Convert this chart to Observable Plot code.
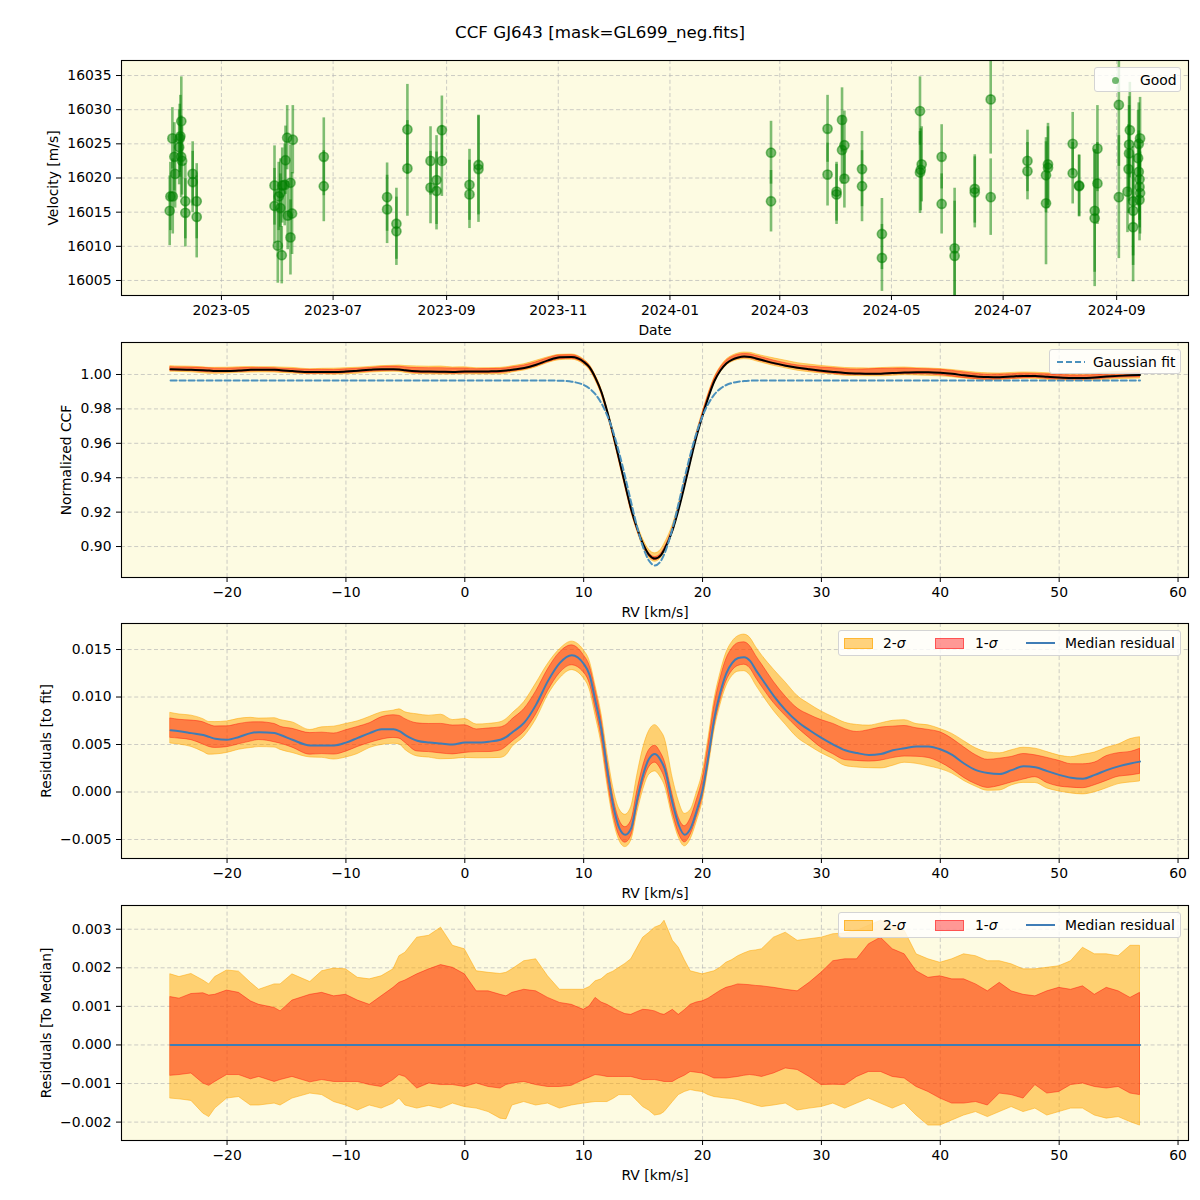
<!DOCTYPE html>
<html><head><meta charset="utf-8">
<script src="https://cdn.jsdelivr.net/npm/d3@7"></script>
<script src="https://cdn.jsdelivr.net/npm/@observablehq/plot@0.6"></script>
<style>
body{margin:0;background:#fff;font-family:"DejaVu Sans",sans-serif;}
#wrap{position:relative;width:1200px;height:1200px;overflow:hidden;}
.panel{position:absolute;left:0;}
.title{position:absolute;top:21px;left:0;width:1200px;text-align:center;font-size:16.7px;line-height:22px;}
.legend{position:absolute;box-sizing:border-box;background:rgba(255,255,255,0.8);border:1px solid #d4d4d4;border-radius:3px;font-size:13.9px;}
.legend span{position:absolute;white-space:nowrap;line-height:16px;}
.legend .sw{position:absolute;box-sizing:border-box;}
</style></head>
<body><div id="wrap">
<div class="title">CCF GJ643 [mask=GL699_neg.fits]</div>
</div>
<script>
// ---------------- Data: RV time series (panel 1) ----------------
const obsDate = [
"2023-04-02T18:00","2023-04-03T03:00","2023-04-04T10:00","2023-04-04T05:00","2023-04-05T07:00","2023-04-05T17:00",
"2023-04-08T05:00","2023-04-08T14:00","2023-04-09T02:00","2023-04-07T22:00","2023-04-09T00:00","2023-04-09T12:00",
"2023-04-11T07:00","2023-04-11T07:00","2023-04-15T07:00","2023-04-15T07:00","2023-04-17T12:00","2023-04-17T12:00",
"2023-05-30T00:00","2023-05-30T00:00","2023-05-31T19:00","2023-06-01T07:00","2023-06-02T05:00","2023-06-02T05:00",
"2023-06-02T23:00","2023-06-03T05:00","2023-06-04T14:00","2023-06-05T00:00","2023-06-05T22:00","2023-06-06T05:00",
"2023-06-07T17:00","2023-06-07T17:00","2023-06-08T14:00","2023-06-09T00:00","2023-06-25T22:00","2023-06-25T22:00",
"2023-07-30T12:00","2023-07-30T12:00","2023-08-04T14:00","2023-08-04T14:00","2023-08-10T14:00","2023-08-10T14:00",
"2023-08-23T05:00","2023-08-23T05:00","2023-08-26T12:00","2023-08-26T12:00","2023-08-29T10:00","2023-08-29T10:00",
"2023-09-13T12:00","2023-09-13T12:00","2023-09-18T10:00","2023-09-18T10:00",
"2024-02-25T05:00","2024-02-25T05:00","2024-03-27T02:00","2024-03-27T02:00","2024-04-01T00:00","2024-04-01T00:00",
"2024-04-04T00:00","2024-04-04T00:00","2024-04-05T07:00","2024-04-05T07:00","2024-04-14T22:00","2024-04-14T22:00",
"2024-04-25T19:00","2024-04-25T19:00","2024-05-16T14:00","2024-05-16T14:00","2024-05-17T00:00","2024-05-17T12:00",
"2024-05-28T10:00","2024-05-28T10:00","2024-06-04T12:00","2024-06-04T12:00","2024-06-15T12:00","2024-06-15T12:00",
"2024-06-24T05:00","2024-06-24T05:00","2024-07-14T07:00","2024-07-14T07:00","2024-07-24T10:00","2024-07-24T10:00",
"2024-07-25T12:00","2024-07-25T12:00","2024-08-08T00:00","2024-08-08T00:00","2024-08-11T12:00","2024-08-11T12:00",
"2024-08-20T00:00","2024-08-20T00:00","2024-08-21T12:00","2024-08-21T12:00","2024-09-02T05:00","2024-09-02T05:00",
"2024-09-06T22:00","2024-09-07T12:00","2024-09-07T19:00","2024-09-07T19:00","2024-09-08T05:00","2024-09-10T00:00",
"2024-09-10T00:00","2024-09-10T00:00","2024-09-12T17:00","2024-09-13T02:00","2024-09-13T02:00","2024-09-13T12:00",
"2024-09-13T12:00","2024-09-13T12:00","2024-09-13T19:00","2024-09-13T19:00"];
const obsRV = [
16015.2,16017.3,16017.3,16025.8,16023.1,16020.6,
16025.8,16026.1,16028.3,16024.5,16023.1,16022.5,
16016.6,16014.9,16020.6,16019.4,16016.6,16014.3,
16018.9,16015.9,16010.1,16017.3,16017.8,16015.6,
16008.7,16018.9,16019.0,16022.6,16025.9,16014.5,
16019.3,16011.3,16014.8,16025.6,16023.1,16018.8,
16017.2,16015.4,16013.3,16012.2,16027.1,16021.4,
16022.5,16018.6,16019.7,16018.1,16027.0,16022.5,
16019.0,16017.6,16021.9,16021.3,
16023.7,16016.6,16027.2,16020.5,16018.0,16017.6,
16028.5,16024.1,16024.8,16019.9,16021.3,16018.8,
16011.8,16008.3,16029.8,16020.8,16021.2,16022.0,
16023.1,16016.2,16009.7,16008.6,16018.4,16017.9,
16031.5,16017.2,16022.5,16021.0,16020.4,16016.3,
16022.0,16021.5,16025.0,16020.7,16018.9,16018.8,
16015.2,16014.1,16024.3,16019.2,16030.7,16017.2,
16018.0,16021.3,16024.9,16023.6,16027.0,16016.6,
16015.2,16012.8,16022.9,16025.0,16020.9,16019.8,
16018.7,16016.8,16025.8,16017.8];
const obsErr = [
5.1,5.0,5.5,4.5,5.0,5.0,
5.0,6.0,6.5,5.5,6.0,5.0,
5.5,5.0,4.7,4.5,5.5,6.0,
5.8,5.5,5.5,5.0,5.0,5.0,
4.2,5.5,6.0,5.0,4.7,5.0,
5.5,5.5,6.0,5.0,5.7,5.2,
5.0,5.0,5.2,5.0,6.6,7.0,
5.0,5.3,6.5,5.7,5.0,5.2,
5.2,5.0,7.3,7.8,
4.6,4.5,4.9,4.6,4.3,4.4,
4.7,5.0,5.0,4.3,5.5,5.2,
5.2,4.9,5.0,6.0,6.0,5.5,
4.7,4.4,8.8,8.0,5.0,5.2,
8.0,5.6,4.5,4.2,5.5,9.0,
6.0,6.0,4.6,4.5,4.5,4.5,
9.0,10.0,6.3,6.0,9.0,9.0,
6.0,6.5,7.0,7.0,7.0,8.0,
8.0,8.0,7.0,6.0,6.0,6.0,
6.0,6.0,6.0,6.0];
const dateTicks = ["2023-05-01","2023-07-01","2023-09-01","2023-11-01","2024-01-01","2024-03-01","2024-05-01","2024-07-01","2024-09-01"];
const velTicks = [16005,16010,16015,16020,16025,16030,16035];

// ---------------- Data: CCF profiles (panels 2-4) ----------------
const rvGrid = [
-24.75,-24,-23,-22,-21.5,-21,-20,-19,-18,-17.3,
-16,-15.5,-14.5,-13,-12,-11,-10,-9,-8,-7,
-6,-5.5,-5,-4,-3,-2,-1,0,1,2,
3,3.5,4,5,6,7,8,9,10,10.5,
11,11.5,12,12.5,13,13.5,14,14.5,15,15.5,
16,16.5,16.8,17.5,18,18.5,19,19.5,20,20.5,
21,21.5,22,22.5,23,23.5,24,24.5,25,26,
27,28,29,30,31,32,33,34,35,36,
37,38,39,40,41,42,43,44,45,46,
47,48,49,50,51,52,53,54,55,56,
56.8];
const ccfMedian = [
1.0030,1.0029,1.0027,1.0025,1.0023,1.0021,1.0020,1.0023,1.0027,1.0028,
1.0027,1.0025,1.0020,1.0014,1.0014,1.0014,1.0017,1.0022,1.0027,1.0031,
1.0031,1.0029,1.0025,1.0019,1.0017,1.0016,1.0015,1.0017,1.0017,1.0018,
1.0020,1.0023,1.0028,1.0038,1.0057,1.0082,1.0100,1.0102,1.0074,1.0041,
0.9979,0.9897,0.9781,0.9647,0.9503,0.9357,0.9216,0.9105,0.9014,0.8952,
0.8930,0.8950,0.8984,0.9100,0.9219,0.9357,0.9503,0.9642,0.9761,0.9870,
0.9962,1.0023,1.0064,1.0087,1.0099,1.0104,1.0102,1.0093,1.0084,1.0066,
1.0051,1.0039,1.0030,1.0022,1.0015,1.0009,1.0006,1.0004,1.0005,1.0009,
1.0011,1.0013,1.0013,1.0010,1.0004,0.9995,0.9988,0.9985,0.9984,0.9988,
0.9992,0.9991,0.9987,0.9983,0.9980,0.9979,0.9983,0.9988,0.9992,0.9995,
0.9997];
const gaussFit = [
0.9965,0.9965,0.9965,0.9965,0.9965,0.9965,0.9965,0.9965,0.9965,0.9965,
0.9965,0.9965,0.9965,0.9965,0.9965,0.9965,0.9965,0.9965,0.9965,0.9965,
0.9965,0.9965,0.9965,0.9965,0.9965,0.9965,0.9965,0.9965,0.9965,0.9965,
0.9965,0.9965,0.9965,0.9965,0.9965,0.9965,0.9964,0.9958,0.9939,0.9918,
0.9884,0.9832,0.9759,0.9662,0.9541,0.9402,0.9254,0.9113,0.8996,0.8917,
0.8890,0.8917,0.8959,0.9113,0.9254,0.9402,0.9541,0.9662,0.9759,0.9832,
0.9884,0.9918,0.9939,0.9951,0.9958,0.9962,0.9964,0.9965,0.9965,0.9965,
0.9965,0.9965,0.9965,0.9965,0.9965,0.9965,0.9965,0.9965,0.9965,0.9965,
0.9965,0.9965,0.9965,0.9965,0.9965,0.9965,0.9965,0.9965,0.9965,0.9965,
0.9965,0.9965,0.9965,0.9965,0.9965,0.9965,0.9965,0.9965,0.9965,0.9965,
0.9965];
const resMedian = [
0.0065,0.0064,0.0062,0.0060,0.0058,0.0056,0.0055,0.0058,0.0062,0.0063,
0.0062,0.0060,0.0055,0.0049,0.0049,0.0049,0.0052,0.0057,0.0062,0.0066,
0.0066,0.0064,0.0060,0.0054,0.0052,0.0051,0.0050,0.0052,0.0052,0.0053,
0.0055,0.0058,0.0063,0.0073,0.0092,0.0117,0.0136,0.0144,0.0135,0.0123,
0.0095,0.0065,0.0022,-0.0015,-0.0038,-0.0045,-0.0038,-0.0008,0.0018,0.0035,
0.0040,0.0033,0.0025,-0.0013,-0.0035,-0.0045,-0.0038,-0.0020,0.0002,0.0038,
0.0078,0.0105,0.0125,0.0136,0.0141,0.0142,0.0138,0.0128,0.0119,0.0101,
0.0086,0.0074,0.0065,0.0057,0.0050,0.0044,0.0041,0.0039,0.0040,0.0044,
0.0046,0.0048,0.0048,0.0045,0.0039,0.0030,0.0023,0.0020,0.0019,0.0023,
0.0027,0.0026,0.0022,0.0018,0.0015,0.0014,0.0018,0.0023,0.0027,0.0030,
0.0032];
// spread of the CCFs around the median (upper/lower 2-sigma and 1-sigma)
const devHi2 = [
0.00183,0.00176,0.00184,0.00167,0.00157,0.00176,0.00193,0.00190,0.00161,0.00143,
0.00157,0.00157,0.00183,0.00163,0.00191,0.00198,0.00196,0.00174,0.00170,0.00178,
0.00196,0.00230,0.00239,0.00278,0.00283,0.00304,0.00257,0.00248,0.00191,0.00187,
0.00184,0.00187,0.00196,0.00217,0.00222,0.00178,0.00143,0.00143,0.00143,0.00150,
0.00165,0.00170,0.00183,0.00190,0.00200,0.00210,0.00222,0.00250,0.00278,0.00290,
0.00304,0.00310,0.00322,0.00270,0.00252,0.00220,0.00191,0.00187,0.00183,0.00187,
0.00191,0.00200,0.00213,0.00220,0.00230,0.00237,0.00243,0.00245,0.00248,0.00278,
0.00291,0.00270,0.00274,0.00278,0.00287,0.00289,0.00296,0.00309,0.00322,0.00309,
0.00296,0.00235,0.00222,0.00213,0.00222,0.00235,0.00230,0.00217,0.00217,0.00209,
0.00196,0.00196,0.00200,0.00204,0.00217,0.00252,0.00235,0.00235,0.00230,0.00257,
0.00257];
const devHi1 = [
0.00124,0.00120,0.00132,0.00134,0.00128,0.00130,0.00141,0.00135,0.00113,0.00104,
0.00096,0.00087,0.00115,0.00130,0.00135,0.00126,0.00130,0.00115,0.00104,0.00126,
0.00148,0.00161,0.00167,0.00183,0.00196,0.00207,0.00200,0.00183,0.00139,0.00139,
0.00130,0.00126,0.00135,0.00143,0.00139,0.00122,0.00109,0.00104,0.00091,0.00100,
0.00122,0.00110,0.00104,0.00095,0.00087,0.00080,0.00078,0.00085,0.00091,0.00090,
0.00087,0.00080,0.00078,0.00091,0.00078,0.00090,0.00104,0.00110,0.00113,0.00120,
0.00130,0.00140,0.00148,0.00152,0.00157,0.00156,0.00155,0.00153,0.00152,0.00148,
0.00143,0.00139,0.00161,0.00187,0.00217,0.00222,0.00222,0.00261,0.00278,0.00248,
0.00235,0.00191,0.00174,0.00178,0.00170,0.00170,0.00157,0.00139,0.00161,0.00139,
0.00130,0.00126,0.00139,0.00148,0.00143,0.00152,0.00130,0.00148,0.00139,0.00122,
0.00135];
const devLo1 = [
-0.00080,-0.00078,-0.00074,-0.00100,-0.00106,-0.00096,-0.00078,-0.00078,-0.00089,-0.00083,
-0.00096,-0.00091,-0.00083,-0.00097,-0.00091,-0.00096,-0.00096,-0.00096,-0.00104,-0.00109,
-0.00091,-0.00078,-0.00083,-0.00113,-0.00100,-0.00104,-0.00104,-0.00109,-0.00100,-0.00109,
-0.00113,-0.00104,-0.00100,-0.00096,-0.00104,-0.00109,-0.00109,-0.00106,-0.00091,-0.00085,
-0.00078,-0.00080,-0.00083,-0.00083,-0.00083,-0.00083,-0.00083,-0.00087,-0.00091,-0.00091,
-0.00091,-0.00094,-0.00096,-0.00096,-0.00087,-0.00080,-0.00070,-0.00072,-0.00074,-0.00080,
-0.00087,-0.00087,-0.00087,-0.00085,-0.00083,-0.00080,-0.00078,-0.00080,-0.00083,-0.00074,
-0.00061,-0.00065,-0.00083,-0.00104,-0.00103,-0.00104,-0.00083,-0.00070,-0.00070,-0.00083,
-0.00087,-0.00109,-0.00122,-0.00139,-0.00152,-0.00152,-0.00148,-0.00157,-0.00126,-0.00130,
-0.00139,-0.00104,-0.00126,-0.00122,-0.00104,-0.00100,-0.00109,-0.00113,-0.00109,-0.00126,
-0.00130];
const devLo2 = [
-0.00139,-0.00141,-0.00145,-0.00178,-0.00187,-0.00165,-0.00139,-0.00135,-0.00157,-0.00157,
-0.00152,-0.00157,-0.00139,-0.00126,-0.00130,-0.00148,-0.00157,-0.00170,-0.00157,-0.00165,
-0.00152,-0.00139,-0.00157,-0.00165,-0.00158,-0.00165,-0.00152,-0.00161,-0.00165,-0.00174,
-0.00191,-0.00193,-0.00157,-0.00148,-0.00157,-0.00152,-0.00165,-0.00157,-0.00152,-0.00150,
-0.00148,-0.00148,-0.00148,-0.00140,-0.00130,-0.00130,-0.00130,-0.00145,-0.00161,-0.00170,
-0.00183,-0.00180,-0.00174,-0.00148,-0.00130,-0.00122,-0.00117,-0.00120,-0.00122,-0.00130,
-0.00135,-0.00137,-0.00139,-0.00140,-0.00143,-0.00148,-0.00152,-0.00157,-0.00161,-0.00157,
-0.00152,-0.00170,-0.00165,-0.00161,-0.00152,-0.00165,-0.00152,-0.00139,-0.00152,-0.00165,
-0.00152,-0.00183,-0.00209,-0.00209,-0.00196,-0.00183,-0.00174,-0.00187,-0.00174,-0.00161,
-0.00174,-0.00165,-0.00183,-0.00174,-0.00165,-0.00165,-0.00183,-0.00191,-0.00187,-0.00200,
-0.00209];
const rvTicks = [-20,-10,0,10,20,30,40,50,60];
const ccfTicks = [0.90,0.92,0.94,0.96,0.98,1.00];
const resTicks = [-0.005,0,0.005,0.010,0.015];
const medTicks = [-0.002,-0.001,0,0.001,0.002,0.003];

// ---------------- Build tables ----------------
const parseT = d3.utcParse("%Y-%m-%dT%H:%M");
const obs = obsDate.map((d,i)=>({date: parseT(d), v: obsRV[i], e: obsErr[i]}));
const prof = rvGrid.map((rv,i)=>({rv, ccf: ccfMedian[i], fit: gaussFit[i], res: resMedian[i],
  h2: devHi2[i], h1: devHi1[i], l1: devLo1[i], l2: devLo2[i]}));

// ---------------- Styling ----------------
const BG = "#fdfbe2";
const FONT = "DejaVu Sans";
const GRID = {stroke:"#b4b4b4", strokeOpacity:0.75, strokeDasharray:"4,2.6", strokeWidth:0.9};
const C2 = "#ffa500", C1 = "#ff0000", CMED = "#3f7db6", CFIT = "#4b91bd";
const RVDOM = [-28.88, 60.88];
const wrap = document.getElementById("wrap");

function place(svg, top){ svg.classList.add("panel"); svg.style.top = top+"px"; wrap.appendChild(svg); }

function common(height, mt, mb, x, y, marks){
  return Plot.plot({width:1200, height, marginLeft:121, marginRight:12, marginTop:mt, marginBottom:mb,
    style:{fontFamily:FONT, fontSize:"13.9px", background:"transparent", color:"black", overflow:"visible"},
    x, y, marks});
}
function axes(xT, xFmt, yT, yFmt, xlabel, ylabel, ydx){
  return [
    Plot.frame({stroke:"black", strokeWidth:1.1}),
    Plot.axisX({ticks:xT, tickFormat:xFmt, tickSize:5, tickPadding:5, label:null, fontSize:13.9}),
    Plot.axisY({ticks:yT, tickFormat:yFmt, tickSize:5, tickPadding:5, label:null, fontSize:13.9}),
    Plot.text([xlabel], {text:d=>d, frameAnchor:"bottom", dy:35, fontSize:13.9, lineAnchor:"middle"}),
    Plot.text([ylabel], {text:d=>d, frameAnchor:"left", dx:ydx, rotate:-90, fontSize:13.9, lineAnchor:"middle", textAnchor:"middle"})
  ];
}

// Panel 1: RV time series
const dT = dateTicks.map(d=>d3.utcParse("%Y-%m-%d")(d));
const p1 = common(340, 60, 45,
  {type:"utc", domain:[new Date(Date.UTC(2023,2,7,10)), new Date(Date.UTC(2024,9,10,6))]},
  {domain:[16002.8, 16037.2]},
  [
    Plot.frame({fill:BG}),
    Plot.gridX(dT, GRID),
    Plot.gridY(velTicks, GRID),
    Plot.ruleX(obs, {x:"date", y1:d=>d.v-d.e, y2:d=>d.v+d.e, stroke:"green", strokeOpacity:0.5, strokeWidth:2.6, clip:true}),
    Plot.dot(obs, {x:"date", y:"v", r:4.6, fill:"green", fillOpacity:0.5, stroke:"green", strokeOpacity:0.5, strokeWidth:1.6, clip:true}),
    ...axes(dT, d3.utcFormat("%Y-%m"), velTicks, d3.format("d"), "Date", "Velocity [m/s]", -68)
  ]);
place(p1, 0);

// Panel 2: CCF
const p2 = common(280, 2, 43, {domain:RVDOM}, {domain:[0.882, 1.0186]}, [
  Plot.frame({fill:BG}),
  Plot.gridX(rvTicks, GRID),
  Plot.gridY(ccfTicks, GRID),
  Plot.areaY(prof, {x:"rv", y1:d=>d.ccf+d.l2, y2:d=>d.ccf+d.h2, fill:C2, fillOpacity:0.5, stroke:C2, strokeOpacity:0.5, strokeWidth:1, curve:"monotone-x"}),
  Plot.areaY(prof, {x:"rv", y1:d=>d.ccf+d.l1, y2:d=>d.ccf+d.h1, fill:C1, fillOpacity:0.4, stroke:C1, strokeOpacity:0.4, strokeWidth:1, curve:"monotone-x"}),
  Plot.lineY(prof, {x:"rv", y:"ccf", stroke:"black", strokeWidth:2, curve:"monotone-x"}),
  Plot.lineY(prof, {x:"rv", y:"fit", stroke:CFIT, strokeWidth:2, strokeDasharray:"6,3", curve:"monotone-x"}),
  ...axes(rvTicks, d3.format("d"), ccfTicks, d3.format(".2f"), "RV [km/s]", "Normalized CCF", -55)
]);
place(p2, 340);

// Panel 3: residuals to fit
const p3 = common(282, 3, 44, {domain:RVDOM}, {domain:[-0.0070, 0.01774]}, [
  Plot.frame({fill:BG}),
  Plot.gridX(rvTicks, GRID),
  Plot.gridY(resTicks, GRID),
  Plot.areaY(prof, {x:"rv", y1:d=>d.res+d.l2, y2:d=>d.res+d.h2, fill:C2, fillOpacity:0.5, stroke:C2, strokeOpacity:0.5, strokeWidth:1, curve:"monotone-x"}),
  Plot.areaY(prof, {x:"rv", y1:d=>d.res+d.l1, y2:d=>d.res+d.h1, fill:C1, fillOpacity:0.4, stroke:C1, strokeOpacity:0.4, strokeWidth:1, curve:"monotone-x"}),
  Plot.lineY(prof, {x:"rv", y:"res", stroke:CMED, strokeWidth:2, curve:"monotone-x"}),
  ...axes(rvTicks, d3.format("d"), resTicks, d3.format(".3f"), "RV [km/s]", "Residuals [to fit]", -75)
]);
place(p3, 620);

// Panel 4: residuals to median
const p4 = common(298, 3, 60, {domain:RVDOM}, {domain:[-0.002477, 0.003615]}, [
  Plot.frame({fill:BG}),
  Plot.gridX(rvTicks, GRID),
  Plot.gridY(medTicks, GRID),
  Plot.areaY(prof, {x:"rv", y1:"l2", y2:"h2", fill:C2, fillOpacity:0.5, stroke:C2, strokeOpacity:0.5, strokeWidth:1}),
  Plot.areaY(prof, {x:"rv", y1:"l1", y2:"h1", fill:C1, fillOpacity:0.4, stroke:C1, strokeOpacity:0.4, strokeWidth:1}),
  Plot.lineY(prof, {x:"rv", y:d=>0, stroke:CMED, strokeWidth:2}),
  ...axes(rvTicks, d3.format("d"), medTicks, d3.format(".3f"), "RV [km/s]", "Residuals [To Median]", -75)
]);
place(p4, 902);

// ---------------- Legends ----------------
function legend(html, left, top, w, h){
  const d = document.createElement("div");
  d.className = "legend";
  Object.assign(d.style, {left:left+"px", top:top+"px", width:w+"px", height:h+"px"});
  d.innerHTML = html; wrap.appendChild(d);
}
legend(`<div class="sw" style="left:17px;top:9px;width:7px;height:7px;border-radius:50%;background:rgba(0,128,0,0.55)"></div>
<span style="left:45px;top:4px">Good</span>`, 1094, 67, 87, 25);
legend(`<svg style="position:absolute;left:7px;top:10px" width="28" height="4"><line x1="0" y1="2" x2="28" y2="2" stroke="${CFIT}" stroke-width="2" stroke-dasharray="6,3"/></svg>
<span style="left:43px;top:4px">Gaussian fit</span>`, 1049, 349, 132, 25);
const sigmaLeg = `<div class="sw" style="left:5px;top:7px;width:29px;height:11px;background:rgba(255,165,0,0.5);border:1px solid rgba(255,165,0,0.6)"></div>
<span style="left:44px;top:4px">2-<i>σ</i></span>
<div class="sw" style="left:96px;top:7px;width:29px;height:11px;background:rgba(255,0,0,0.4);border:1px solid rgba(255,0,0,0.45)"></div>
<span style="left:136px;top:4px">1-<i>σ</i></span>
<div class="sw" style="left:187px;top:11px;width:29px;height:2px;background:${CMED}"></div>
<span style="left:226px;top:4px">Median residual</span>`;
legend(sigmaLeg, 838, 630, 343, 26);
legend(sigmaLeg, 838, 912, 343, 26);
</script>
</body></html>
